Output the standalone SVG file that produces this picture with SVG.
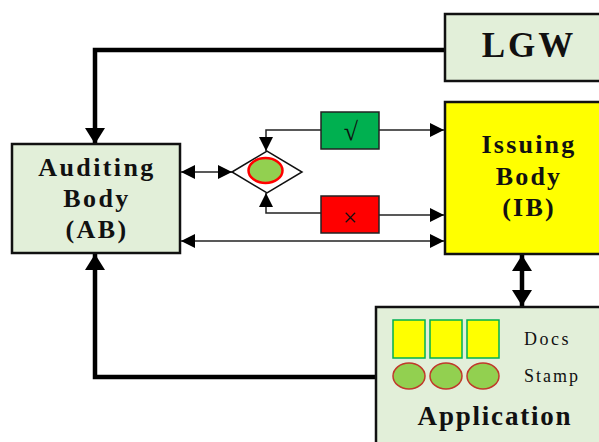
<svg xmlns="http://www.w3.org/2000/svg" width="599" height="442" viewBox="0 0 599 442">
  <defs>
    <style>
      .box { fill: #e2efd9; stroke: #111; stroke-width: 2.5; }
      .ib { fill: #ffff00; stroke: #111; stroke-width: 2.5; }
      .title { font-family: "Liberation Serif", "Times New Roman", serif; font-weight: bold; fill: #111; text-anchor: middle; }
      .label { font-family: "Liberation Serif", "Times New Roman", serif; fill: #111; }
      .thin { fill: none; stroke: #222; stroke-width: 1.5; }
      .thick { fill: none; stroke: #000; stroke-width: 4.5; }
      .doc { fill: #ffff00; stroke: #00b050; stroke-width: 1.5; }
      .stamp { fill: #92d050; stroke: #c0392b; stroke-width: 1.5; }
    </style>
    <marker id="ah" markerUnits="userSpaceOnUse" markerWidth="14" markerHeight="14" refX="14" refY="7" orient="auto-start-reverse">
      <path d="M0,0 L14,7 L0,14 z" fill="#000"/>
    </marker>
    <marker id="ahBig" markerUnits="userSpaceOnUse" markerWidth="16" markerHeight="20" refX="16" refY="10" orient="auto-start-reverse">
      <path d="M0,0 L16,10 L0,20 z" fill="#000"/>
    </marker>
  </defs>

  <rect width="599" height="442" fill="#fff"/>

  <!-- connectors -->
  <g id="connectors">
    <path class="thick" d="M446,50 H95 V144" marker-end="url(#ahBig)"/>
    <path class="thick" d="M376,377 H95 V254" marker-end="url(#ahBig)"/>
    <path class="thick" d="M522,255 V306" marker-start="url(#ahBig)" marker-end="url(#ahBig)"/>
    <path class="thin" d="M181,172 H232" marker-start="url(#ah)" marker-end="url(#ah)"/>
    <path class="thin" d="M321,130 H266 V151" marker-end="url(#ah)"/>
    <path class="thin" d="M379,130 H444" marker-end="url(#ah)"/>
    <path class="thin" d="M321,213 H266 V193" marker-end="url(#ah)"/>
    <path class="thin" d="M379,215 H444" marker-end="url(#ah)"/>
    <path class="thin" d="M181,241 H444" marker-start="url(#ah)" marker-end="url(#ah)"/>
  </g>

  <!-- LGW -->
  <g id="lgw">
    <rect class="box" x="445" y="14" width="170" height="67"/>
    <text class="title" x="529" y="57" font-size="35" letter-spacing="3">LGW</text>
  </g>

  <!-- Auditing Body -->
  <g id="auditing-body">
    <rect class="box" x="12" y="144" width="168" height="109"/>
    <text class="title" x="97" y="176" font-size="26" letter-spacing="2.4">Auditing</text>
    <text class="title" x="97" y="207" font-size="26" letter-spacing="2.4">Body</text>
    <text class="title" x="97" y="238" font-size="26" letter-spacing="2.4">(AB)</text>
  </g>

  <!-- Issuing Body -->
  <g id="issuing-body">
    <rect class="ib" x="445" y="102" width="170" height="152"/>
    <text class="title" x="529" y="153" font-size="26" letter-spacing="2.2">Issuing</text>
    <text class="title" x="529" y="185" font-size="26" letter-spacing="2.2">Body</text>
    <text class="title" x="529" y="216" font-size="26" letter-spacing="2.2">(IB)</text>
  </g>

  <!-- decision -->
  <g id="decision">
    <polygon points="232,172 267,151 302,172 267,193" fill="#fff" stroke="#111" stroke-width="1.5"/>
    <ellipse cx="265.5" cy="170.5" rx="17" ry="12.5" fill="#92d050" stroke="#ff0000" stroke-width="2.5"/>
  </g>

  <!-- approve -->
  <g id="approve">
    <rect x="321" y="112" width="58" height="37" fill="#00b050" stroke="#222" stroke-width="1.5"/>
    <text class="label" x="351" y="140" font-size="26" text-anchor="middle">√</text>
  </g>

  <!-- reject -->
  <g id="reject">
    <rect x="321" y="196" width="58" height="37" fill="#ff0000" stroke="#222" stroke-width="1.5"/>
    <text class="label" x="350" y="226" font-size="25" text-anchor="middle">×</text>
  </g>

  <!-- Application -->
  <g id="application">
    <rect class="box" x="376" y="307" width="240" height="150"/>
    <rect class="doc" x="393" y="320" width="32" height="38"/>
    <rect class="doc" x="430" y="320" width="32" height="38"/>
    <rect class="doc" x="467" y="320" width="32" height="38"/>
    <ellipse class="stamp" cx="409" cy="376" rx="16" ry="13"/>
    <ellipse class="stamp" cx="446" cy="376" rx="16" ry="13"/>
    <ellipse class="stamp" cx="483" cy="376" rx="16" ry="13"/>
    <text class="label" x="524" y="345" font-size="18" letter-spacing="2.5">Docs</text>
    <text class="label" x="524" y="382" font-size="18" letter-spacing="2">Stamp</text>
    <text class="title" x="495" y="425" font-size="27" letter-spacing="1.8">Application</text>
  </g>
</svg>
